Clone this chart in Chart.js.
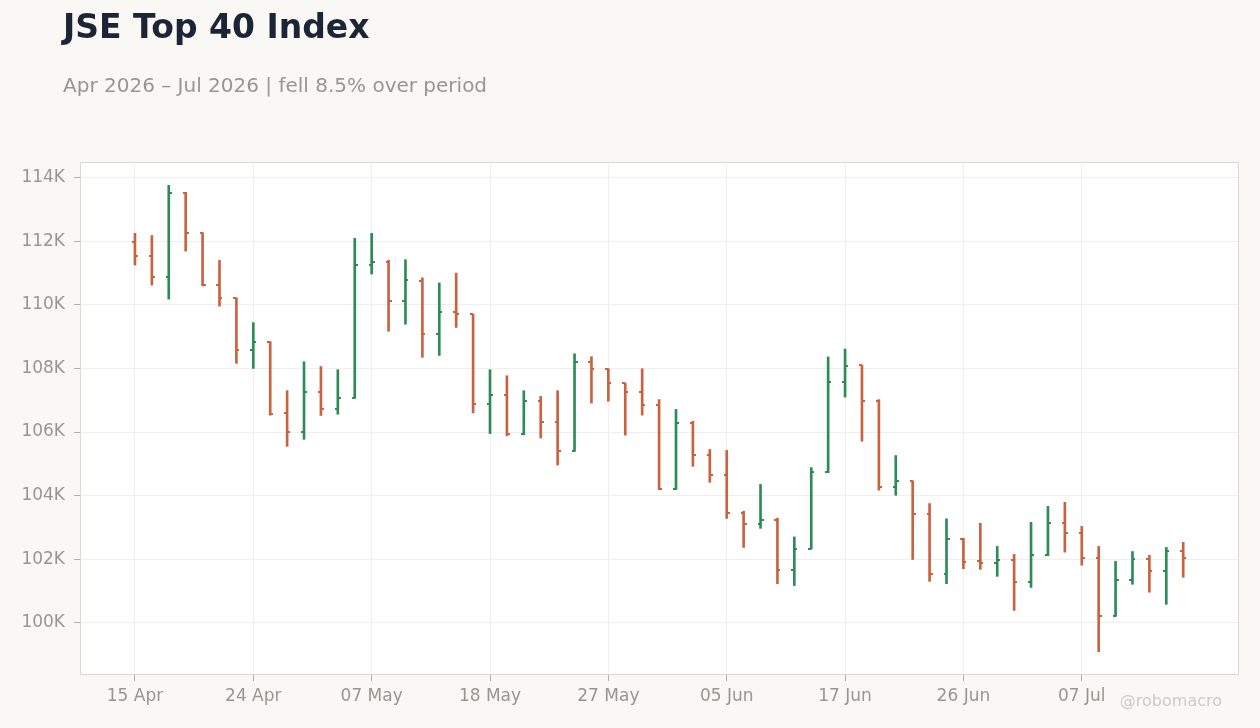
<!DOCTYPE html>
<html>
<head>
<meta charset="utf-8">
<script src="https://cdn.jsdelivr.net/npm/chart.js@4.4.1/dist/chart.umd.min.js"></script>
<style>
  html, body { margin: 0; padding: 0; background: #f9f8f5; }
  #wrap { position: relative; width: 1260px; height: 728px; overflow: hidden; font-family: "DejaVu Sans", sans-serif; }
  #title { position: absolute; left: 63px; top: 10px; font-size: 33px; line-height: 33px; font-weight: bold; color: #1c2536; white-space: nowrap; }
  #subtitle { position: absolute; left: 63px; top: 75px; font-size: 20px; line-height: 20px; color: #9a9590; white-space: nowrap; }
  #credit { position: absolute; right: 38px; top: 693px; font-size: 16px; line-height: 16px; color: #cfcac3; white-space: nowrap; }
  canvas { position: absolute; left: 0; top: 0; }
</style>
</head>
<body>
<div id="wrap">
  <canvas id="c" width="1260" height="728"></canvas>
  <div id="title">JSE Top 40 Index</div>
  <div id="subtitle">Apr 2026 – Jul 2026 | fell 8.5% over period</div>
  <div id="credit">@robomacro</div>
</div>
<script>
// Trading days (categories)
const dates = ['15 Apr','16 Apr','17 Apr','20 Apr','21 Apr','22 Apr','23 Apr','24 Apr','28 Apr','29 Apr',
  '30 Apr','04 May','05 May','06 May','07 May','08 May','11 May','12 May','13 May','14 May',
  '15 May','18 May','19 May','20 May','21 May','22 May','25 May','26 May','27 May','28 May',
  '29 May','01 Jun','02 Jun','03 Jun','04 Jun','05 Jun','08 Jun','09 Jun','10 Jun','11 Jun',
  '12 Jun','15 Jun','17 Jun','18 Jun','19 Jun','22 Jun','23 Jun','24 Jun','25 Jun','26 Jun',
  '29 Jun','30 Jun','01 Jul','02 Jul','03 Jul','06 Jul','07 Jul','08 Jul','09 Jul','10 Jul',
  '13 Jul','14 Jul','15 Jul'];

const opens = [111970,111530,110870,113530,112270,110620,110220,108590,108840,106590,
  106010,107250,106710,107060,111250,111350,110110,110760,109070,109790,
  109700,106880,107160,105940,106970,106310,105400,108190,107970,107530,
  107250,106840,104200,106280,105270,104640,103440,103120,103220,101670,
  102330,104730,107580,108100,106980,104280,104460,103410,101530,102650,
  101930,101870,101970,101290,102120,103140,102820,102030,100220,101330,
  102000,101620,102250];
const highs = [112250,112180,113760,113540,112270,111400,110220,109440,108840,107300,
  108210,108060,107960,112090,112250,111400,111420,110850,110690,111000,
  109700,107960,107770,107300,107120,107300,108460,108370,107990,107530,
  107990,107020,106710,106340,105450,105420,103510,104350,103290,102700,
  104880,108360,108610,108100,107020,105260,104460,103750,103270,102660,
  103130,102400,102150,103160,103660,103790,103030,102400,101930,102240,
  102120,102370,102530];
const lows = [111250,110620,110180,111690,110600,109960,108160,108000,106530,105550,
  105770,106520,106560,107060,110970,109170,109390,108350,108410,109290,
  106600,105950,105880,105910,105810,104960,105390,106910,106970,105900,
  106530,104190,104190,104920,104420,103280,102370,102970,101230,101170,
  102320,104720,107100,105710,104170,104010,101990,101300,101230,101700,
  101680,101460,100390,101110,102110,102220,101810,99090,100200,101210,
  100960,100580,101430];
const closes = [111530,110870,113520,112260,110610,110210,108590,108820,106580,106010,
  107250,106710,107060,111250,111340,110110,110770,109070,109790,109700,
  106880,107160,105940,106970,106310,105400,108190,107970,107530,107250,
  106840,104200,106280,105270,104640,103440,103120,103220,101670,102330,
  104740,107580,108080,106980,104280,104450,103410,101530,102650,101920,
  101870,101970,101290,102130,103140,102820,102030,100220,101330,102000,
  101620,102250,102030];

// y-axis tick values
const yTicks = [100000,102000,104000,106000,108000,110000,112000,114000];
// x-axis labelled indices (every 7 trading days)
const xTicks = [0,7,14,21,28,35,42,49,56];

const UP = '#2e8b57', DOWN = '#c9623f';
const colors = opens.map((o,i) => closes[i] >= o ? UP : DOWN);

function tickImg(color, side) {
  const cv = document.createElement('canvas');
  cv.width = 6; cv.height = 2;
  const g = cv.getContext('2d');
  g.fillStyle = color;
  g.fillRect(side === 'left' ? 0 : 3, 0, 3, 2);
  return cv;
}
const imgs = {
  upL: tickImg(UP,'left'), upR: tickImg(UP,'right'),
  dnL: tickImg(DOWN,'left'), dnR: tickImg(DOWN,'right')
};
const openStyles = colors.map(c => c === UP ? imgs.upL : imgs.dnL);
const closeStyles = colors.map(c => c === UP ? imgs.upR : imgs.dnR);

const lo = Math.min(...lows), hi = Math.max(...highs), pad = (hi - lo) * 0.05;

const plotFrame = {
  id: 'plotFrame',
  beforeDraw(chart) {
    const {ctx, chartArea: a} = chart;
    ctx.save();
    ctx.fillStyle = '#ffffff';
    ctx.fillRect(a.left, a.top, a.right - a.left, a.bottom - a.top);
    ctx.restore();
  },
  beforeDatasetsDraw(chart) {
    const {ctx, chartArea: a} = chart;
    ctx.save();
    ctx.strokeStyle = '#dcd7cf';
    ctx.lineWidth = 1;
    ctx.strokeRect(a.left + 0.5, a.top + 0.5, a.right - a.left - 1, a.bottom - a.top - 1);
    ctx.restore();
  }
};

const tickFont = { family: 'DejaVu Sans', size: 17 };

new Chart(document.getElementById('c'), {
  type: 'bar',
  data: {
    datasets: [
      {
        type: 'scatter',
        data: opens.map((v,i) => ({x: i, y: v})),
        pointStyle: openStyles,
        pointRadius: 3,
        order: 1
      },
      {
        type: 'scatter',
        data: closes.map((v,i) => ({x: i, y: v})),
        pointStyle: closeStyles,
        pointRadius: 3,
        order: 1
      },
      {
        type: 'bar',
        data: lows.map((v,i) => ({x: i, y: [v, highs[i]]})),
        backgroundColor: colors,
        borderWidth: 0,
        barThickness: 2,
        grouped: false,
        order: 2
      }
    ]
  },
  options: {
    responsive: false,
    animation: false,
    events: [],
    layout: { padding: { top: 162, right: 21, left: 0, bottom: 0 } },
    plugins: { legend: { display: false }, tooltip: { enabled: false }, title: { display: false } },
    scales: {
      x: {
        type: 'linear',
        offset: false,
        min: -3.25,
        max: 65.3,
        afterBuildTicks: s => { s.ticks = xTicks.map(v => ({value: v})); },
        afterFit: s => { s.height = 53; },
        ticks: {
          autoSkip: false, maxRotation: 0, padding: 5,
          color: '#9a958e', font: tickFont,
          callback: v => dates[v]
        },
        grid: { offset: false, color: '#efefef', tickColor: '#b3aea6', tickLength: 6, drawTicks: true },
        border: { display: false }
      },
      y: {
        type: 'linear',
        min: lo - pad,
        max: hi + pad,
        afterBuildTicks: s => { s.ticks = yTicks.map(v => ({value: v})); },
        afterFit: s => { s.width = 80; },
        ticks: {
          padding: 9,
          color: '#9a958e', font: tickFont,
          callback: v => (v / 1000) + 'K'
        },
        grid: { color: '#efefef', tickColor: '#b3aea6', tickLength: 6, drawTicks: true },
        border: { display: false }
      }
    }
  },
  plugins: [plotFrame]
});
</script>
</body>
</html>
